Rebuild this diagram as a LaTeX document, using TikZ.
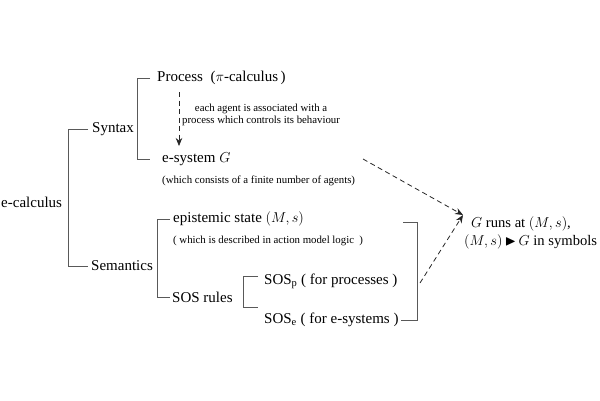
\documentclass[tikz,border=0pt]{standalone}
\usepackage{amssymb}
\usepackage{fontspec}
\setmainfont{Liberation Serif}
\usetikzlibrary{arrows.meta}
\begin{document}
\begin{tikzpicture}[x=1pt,y=-1pt,
  br/.style={draw=black!65, line width=0.9pt},
  big/.style={font=\fontsize{15}{17.5}\selectfont, inner sep=0pt, anchor=west},
  small/.style={font=\fontsize{10.8}{12.5}\selectfont, inner sep=0pt},
  darr/.style={draw=black!85, dash pattern=on 5pt off 3.5pt, line width=0.8pt, -{Stealth[length=8pt,width=6.5pt]}}]
\useasboundingbox (0,0) rectangle (600,400);
% text nodes
\node[big] (ecalc) at (1,202) {e-calculus};
\node[big] (syn) at (92,129) {Syntax};
\node[big] (sem) at (91,266) {Semantics};
\node[big] (proc) at (157,78) {Process\ \ ($\pi$-calculus\,)};
\node[big] (esys) at (162,159) {e-system $G$};
\node[small, anchor=west] (cons) at (162,181) {(which consists of a finite number of agents)};
\node[small, align=center, anchor=west] (assoc) at (182,115) {each agent is associated with a\\process which controls its behaviour};
\node[big] (epi) at (173,219) {epistemic state $(M,s)$};
\node[small, anchor=west] (desc) at (173,241) {( which is described in action model logic\ \ )};
\node[big] (sos) at (172,297) {SOS rules};
\node[big] (sosp) at (264,281) {SOS$_{\mathrm{p}}$ ( for processes )};
\node[big] (sose) at (264,320) {SOS$_{\mathrm{e}}$ ( for e-systems )};
\node[big, align=left, font=\fontsize{14.6}{17.5}\selectfont] (runs) at (464,233) {\hspace{7pt}$G$ runs at $(M,s)$,\\$(M,s)\,{\blacktriangleright}\,G$ in symbols};
% brackets
\draw[br] (88,129) -- (68,129) -- (68,266) -- (88,266);
\draw[br] (150,78) -- (137,78) -- (137,159) -- (150,159);
\draw[br] (170,219) -- (157,219) -- (157,297) -- (170,297);
\draw[br] (258,276) -- (243,276) -- (243,307) -- (258,307);
\draw[br] (403,222) -- (417,222) -- (417,320) -- (401,320);
% dashed arrows
\coordinate (a1) at (179,92);
\coordinate (a2) at (179,146);
\draw[darr] (a1) -- (a2);
\coordinate (s1) at (363,159);
\coordinate (t1) at (463,215);
\coordinate (s2) at (420,283);
\draw[darr] (s1) -- (t1);
\draw[darr] (s2) -- (t1);
\end{tikzpicture}
\end{document}
